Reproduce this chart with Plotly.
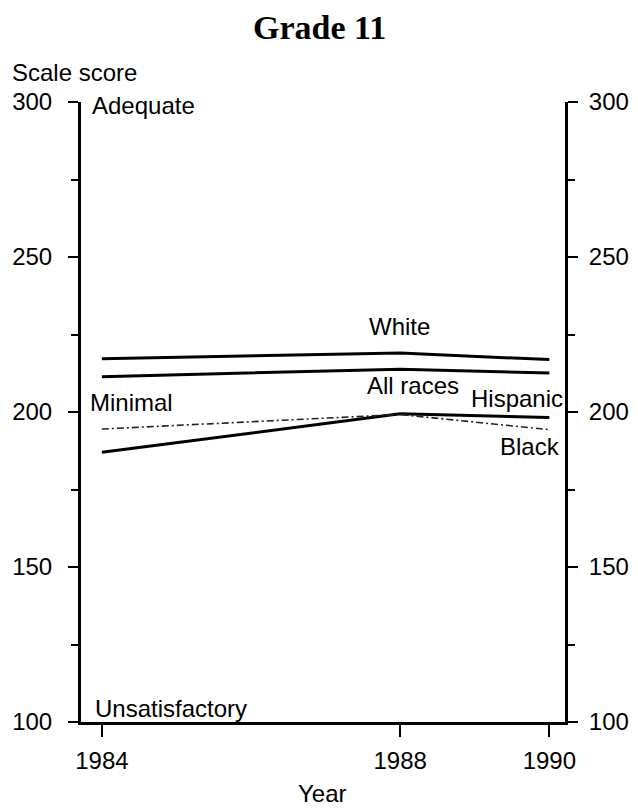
import plotly.graph_objects as go

years = [1984, 1988, 1990]
white = [217.2, 219.0, 216.9]
all_races = [211.4, 213.8, 212.6]
hispanic = [187.0, 199.4, 198.2]
black = [194.5, 199.2, 194.3]

y_ticks = [100, 150, 200, 250, 300]
x_ticks = [1984, 1988, 1990]

FONT = "Liberation Sans, Arial, sans-serif"
FS = 24
W, H = 638, 810
OFF = 8  # page body margin offset
L, R, T, B = 81 - OFF, W - (565 - OFF), 102 - OFF, H - (722 - OFF)

fig = go.Figure()
fig.add_trace(go.Scatter(x=years, y=white, mode="lines", line=dict(color="black", width=3), showlegend=False, hoverinfo="skip"))
fig.add_trace(go.Scatter(x=years, y=all_races, mode="lines", line=dict(color="black", width=3), showlegend=False, hoverinfo="skip"))
fig.add_trace(go.Scatter(x=years, y=hispanic, mode="lines", line=dict(color="black", width=3), showlegend=False, hoverinfo="skip"))
fig.add_trace(go.Scatter(x=years, y=black, mode="lines", line=dict(color="#222", width=1.6, dash="7px,3px,2px,3px"), showlegend=False, hoverinfo="skip"))
# invisible trace to carry the right-hand axis
fig.add_trace(go.Scatter(x=years, y=white, yaxis="y2", mode="lines", line=dict(width=0), opacity=0, showlegend=False, hoverinfo="skip"))

axis_common = dict(
    showgrid=False, zeroline=False, showline=True, linecolor="black", linewidth=3,
    ticks="outside", tickcolor="black", tickwidth=2, automargin=False,
    tickfont=dict(family=FONT, size=FS, color="black"),
)

fig.update_layout(
    width=W, height=H,
    margin=dict(l=L, r=R, t=T, b=B, autoexpand=False),
    paper_bgcolor="white", plot_bgcolor="white",
    font=dict(family=FONT, size=FS, color="black"),
    xaxis=dict(range=[1983.72, 1990.21], tickvals=x_ticks, ticklen=12, ticklabelstandoff=3, **axis_common),
    yaxis=dict(range=[100, 300], tickvals=y_ticks, ticklen=10, ticklabelstandoff=11,
               minor=dict(dtick=25, ticks="outside", ticklen=7, tickcolor="black", tickwidth=2),
               **axis_common),
    yaxis2=dict(range=[100, 300], tickvals=y_ticks, ticklen=10, ticklabelstandoff=6, overlaying="y", side="right",
                minor=dict(dtick=25, ticks="outside", ticklen=7, tickcolor="black", tickwidth=2),
                **axis_common),
)

def px_ann(text, x, y, xanchor="center", size=FS, family=FONT):
    # x,y in page pixel coordinates -> paper coordinates
    fx, fy = x - OFF, y - OFF
    fig.add_annotation(text=text, x=(fx - L) / (W - L - R), y=(H - B - fy) / (H - T - B),
                       xref="paper", yref="paper", xanchor=xanchor, yanchor="middle",
                       showarrow=False, font=dict(family=family, size=size, color="black"))

px_ann("<b>Grade 11</b>", 319, 28, size=34, family="Liberation Serif, Times New Roman, serif")
px_ann("Scale score", 10, 72, xanchor="left")
px_ann("Year", 322, 793)
px_ann("Adequate", 90, 105, xanchor="left")
px_ann("Minimal", 88, 402, xanchor="left")
px_ann("Unsatisfactory", 93, 708, xanchor="left")

def data_ann(text, x, y, xanchor="center"):
    fig.add_annotation(text=text, x=x, y=y, xref="x", yref="y", xanchor=xanchor, yanchor="middle",
                       showarrow=False, font=dict(family=FONT, size=FS, color="black"))

data_ann("White", 1987.99, 227.7)
data_ann("All races", 1988.17, 208.4)
data_ann("Hispanic", 1989.56, 204.2)
data_ann("Black", 1989.74, 189.0)

fig.write_html("out.html")
